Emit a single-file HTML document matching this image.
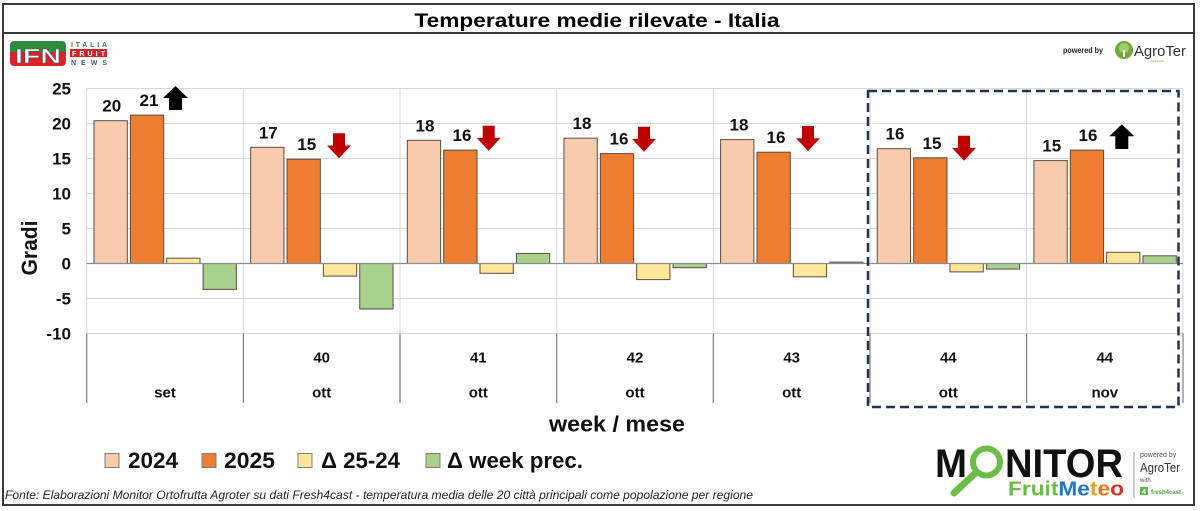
<!DOCTYPE html>
<html>
<head>
<meta charset="utf-8">
<style>
html,body{margin:0;padding:0;background:#fff;}
svg{display:block;}
text{font-family:"Liberation Sans",Arial,sans-serif;}
</style>
</head>
<body>
<svg width="1200" height="511" viewBox="0 0 1200 511" xmlns="http://www.w3.org/2000/svg">
<rect x="0" y="0" width="1200" height="511" fill="#fff"/>
<rect x="3" y="4" width="1191" height="501" fill="none" stroke="#3a3a3a" stroke-width="2"/>
<line x1="3" y1="33" x2="1194" y2="33" stroke="#3a3a3a" stroke-width="2"/>
<text x="597" y="27" text-anchor="middle" font-size="19" font-weight="bold" fill="#000" textLength="365" lengthAdjust="spacingAndGlyphs">Temperature medie rilevate - Italia</text>

<!-- IFN logo -->
<rect x="10" y="41" width="56" height="13" rx="4" fill="#2f8a3c"/>
<rect x="10" y="53" width="56" height="13" rx="4" fill="#d8232a"/>
<rect x="10" y="50" width="56" height="6" fill="#d8232a"/>
<rect x="10" y="48" width="56" height="4" fill="#2f8a3c"/>
<text x="38" y="63" text-anchor="middle" font-size="20" font-weight="bold" fill="#fff" stroke="#555" stroke-width="0.6" textLength="46" lengthAdjust="spacingAndGlyphs">IFN</text>
<text x="71" y="47" font-size="7" font-weight="bold" fill="#3f7f46" textLength="36" lengthAdjust="spacing">ITALIA</text>
<rect x="70" y="49" width="37" height="8" fill="#d8232a"/>
<text x="72" y="56" font-size="7" font-weight="bold" fill="#fff" textLength="33" lengthAdjust="spacing">FRUIT</text>
<text x="71" y="65" font-size="7" font-weight="bold" fill="#555" textLength="36" lengthAdjust="spacing">NEWS</text>

<!-- AgroTer top right -->
<text x="1063" y="53" font-size="8" font-weight="bold" fill="#222" textLength="40" lengthAdjust="spacingAndGlyphs">powered by</text>
<circle cx="1124" cy="50" r="9" fill="#6dab3c"/>
<circle cx="1124" cy="48" r="5" fill="#9fd06a"/>
<rect x="1123" y="50" width="2" height="7" fill="#fff"/>
<text x="1134" y="56" font-size="15" fill="#333" textLength="52" lengthAdjust="spacingAndGlyphs">AgroTer</text>
<text x="1150" y="62" font-size="3" fill="#6dab3c">think fresh</text>

<!-- gridlines -->
<g stroke="#d9d9d9" stroke-width="1">
<line x1="86.7" y1="88.5" x2="1183" y2="88.5"/>
<line x1="86.7" y1="123.5" x2="1183" y2="123.5"/>
<line x1="86.7" y1="158.5" x2="1183" y2="158.5"/>
<line x1="86.7" y1="193.5" x2="1183" y2="193.5"/>
<line x1="86.7" y1="228.5" x2="1183" y2="228.5"/>
<line x1="86.7" y1="298.5" x2="1183" y2="298.5"/>
<line x1="86.7" y1="333.5" x2="1183" y2="333.5"/>
<line x1="86.7" y1="88.5" x2="86.7" y2="333.5"/>
<line x1="243.4" y1="88.5" x2="243.4" y2="333.5"/>
<line x1="400" y1="88.5" x2="400" y2="333.5"/>
<line x1="556.7" y1="88.5" x2="556.7" y2="333.5"/>
<line x1="713.3" y1="88.5" x2="713.3" y2="333.5"/>
<line x1="870" y1="88.5" x2="870" y2="333.5"/>
<line x1="1026.6" y1="88.5" x2="1026.6" y2="333.5"/>
<line x1="1183" y1="88.5" x2="1183" y2="333.5"/>
</g>

<g stroke="#7f7f7f" stroke-width="1.2">
<line x1="86.7" y1="333.5" x2="86.7" y2="403"/>
<line x1="243.4" y1="333.5" x2="243.4" y2="403"/>
<line x1="400" y1="333.5" x2="400" y2="403"/>
<line x1="556.7" y1="333.5" x2="556.7" y2="403"/>
<line x1="713.3" y1="333.5" x2="713.3" y2="403"/>
<line x1="870" y1="333.5" x2="870" y2="403"/>
<line x1="1026.6" y1="333.5" x2="1026.6" y2="403"/>
<line x1="1183" y1="333.5" x2="1183" y2="403"/>
</g>

<g font-size="17" font-weight="bold" fill="#111" text-anchor="end">
<text x="71" y="94.5">25</text>
<text x="71" y="129.5">20</text>
<text x="71" y="164.5">15</text>
<text x="71" y="199.5">10</text>
<text x="71" y="234.5">5</text>
<text x="71" y="269.5">0</text>
<text x="71" y="304.5">-5</text>
<text x="71" y="339.5">-10</text>
</g>
<text transform="translate(37,248) rotate(-90)" text-anchor="middle" font-size="22" font-weight="bold" fill="#111" textLength="55" lengthAdjust="spacingAndGlyphs">Gradi</text>

<g stroke="#5a4d44" stroke-width="1">
<rect x="94" y="120.7" width="33.3" height="142.8" fill="#f8cbad"/>
<rect x="130.4" y="115.1" width="33.3" height="148.4" fill="#ed7d31"/>
<rect x="166.7" y="258.2" width="33.3" height="5.3" fill="#ffe699"/>
<rect x="203.1" y="263.5" width="33.3" height="25.9" fill="#a9d18e"/>
<rect x="250.65" y="147.3" width="33.3" height="116.2" fill="#f8cbad"/>
<rect x="287.05" y="159.2" width="33.3" height="104.3" fill="#ed7d31"/>
<rect x="323.35" y="263.5" width="33.3" height="12.6" fill="#ffe699"/>
<rect x="359.75" y="263.5" width="33.3" height="45.5" fill="#a9d18e"/>
<rect x="407.3" y="140.3" width="33.3" height="123.2" fill="#f8cbad"/>
<rect x="443.7" y="150.1" width="33.3" height="113.4" fill="#ed7d31"/>
<rect x="480" y="263.5" width="33.3" height="9.8" fill="#ffe699"/>
<rect x="516.4" y="253.4" width="33.3" height="10.1" fill="#a9d18e"/>
<rect x="563.95" y="138.2" width="33.3" height="125.3" fill="#f8cbad"/>
<rect x="600.35" y="153.6" width="33.3" height="109.9" fill="#ed7d31"/>
<rect x="636.65" y="263.5" width="33.3" height="16.1" fill="#ffe699"/>
<rect x="673.05" y="263.5" width="33.3" height="4.2" fill="#a9d18e"/>
<rect x="720.6" y="139.6" width="33.3" height="123.9" fill="#f8cbad"/>
<rect x="757" y="152.2" width="33.3" height="111.3" fill="#ed7d31"/>
<rect x="793.3" y="263.5" width="33.3" height="13.3" fill="#ffe699"/>
<rect x="829.7" y="262.1" width="33.3" height="1.4" fill="#a9d18e"/>
<rect x="877.25" y="148.7" width="33.3" height="114.8" fill="#f8cbad"/>
<rect x="913.65" y="157.8" width="33.3" height="105.7" fill="#ed7d31"/>
<rect x="949.95" y="263.5" width="33.3" height="8.4" fill="#ffe699"/>
<rect x="986.35" y="263.5" width="33.3" height="5.6" fill="#a9d18e"/>
<rect x="1033.9" y="160.6" width="33.3" height="102.9" fill="#f8cbad"/>
<rect x="1070.3" y="150.1" width="33.3" height="113.4" fill="#ed7d31"/>
<rect x="1106.6" y="252.3" width="33.3" height="11.2" fill="#ffe699"/>
<rect x="1143" y="255.8" width="33.3" height="7.7" fill="#a9d18e"/>
</g>
<line x1="86.7" y1="263.5" x2="1183" y2="263.5" stroke="#8c8c8c" stroke-width="1.2"/>

<g font-size="17" font-weight="bold" fill="#111" text-anchor="middle">
<text x="111.7" y="111.7">20</text>
<text x="149" y="106">21</text>
<text x="268.3" y="138.3">17</text>
<text x="306.7" y="150.2">15</text>
<text x="425" y="131.3">18</text>
<text x="462" y="141.1">16</text>
<text x="582" y="129.2">18</text>
<text x="619" y="144.6">16</text>
<text x="739" y="130.6">18</text>
<text x="776" y="143.2">16</text>
<text x="895" y="139.7">16</text>
<text x="932" y="148.8">15</text>
<text x="1051.7" y="151.6">15</text>
<text x="1088" y="141.1">16</text>
</g>

<g>
<path d="M175.5,86 L188,98 L182,98 L182,110 L169,110 L169,98 L163,98 Z" fill="#000"/>
<path d="M333,133.3 L345,133.3 L345,145.5 L351,145.5 L339,158.3 L327,145.5 L333,145.5 Z" fill="#c00000"/>
<path d="M482.7,125.7 L494.7,125.7 L494.7,137.9 L500.7,137.9 L488.7,150.7 L476.7,137.9 L482.7,137.9 Z" fill="#c00000"/>
<path d="M638,126.7 L650,126.7 L650,138.9 L656,138.9 L644,151.7 L632,138.9 L638,138.9 Z" fill="#c00000"/>
<path d="M802,126 L814,126 L814,138.2 L820,138.2 L808,151 L796,138.2 L802,138.2 Z" fill="#c00000"/>
<path d="M958,135.7 L970,135.7 L970,147.9 L976,147.9 L964,160.7 L952,147.9 L958,147.9 Z" fill="#c00000"/>
<path d="M1121.8,124.3 L1134.3,136.3 L1128.3,136.3 L1128.3,149 L1115.3,149 L1115.3,136.3 L1109.3,136.3 Z" fill="#000"/>
</g>

<g font-size="15" font-weight="bold" fill="#111" text-anchor="middle">
<text x="321.7" y="362.5">40</text>
<text x="478.3" y="362.5">41</text>
<text x="635" y="362.5">42</text>
<text x="791.7" y="362.5">43</text>
<text x="948.3" y="362.5">44</text>
<text x="1104.8" y="362.5">44</text>
<text x="165" y="397.5">set</text>
<text x="321.7" y="397.5">ott</text>
<text x="478.3" y="397.5">ott</text>
<text x="635" y="397.5">ott</text>
<text x="791.7" y="397.5">ott</text>
<text x="948.3" y="397.5">ott</text>
<text x="1104.8" y="397.5">nov</text>
</g>

<rect x="868" y="91" width="310.5" height="316" fill="none" stroke="#1f3550" stroke-width="2.5" stroke-dasharray="9,5"/>

<text x="617" y="431.5" text-anchor="middle" font-size="22" font-weight="bold" fill="#111" textLength="136" lengthAdjust="spacingAndGlyphs">week / mese</text>

<g stroke="#7f7f7f" stroke-width="1">
<rect x="105" y="453.5" width="14" height="14" fill="#f8cbad"/>
<rect x="202" y="453.5" width="14" height="14" fill="#ed7d31"/>
<rect x="298" y="453.5" width="14" height="14" fill="#ffe699"/>
<rect x="426" y="453.5" width="14" height="14" fill="#a9d18e"/>
</g>
<g font-size="22" font-weight="bold" fill="#111">
<text x="128" y="468" textLength="50" lengthAdjust="spacingAndGlyphs">2024</text>
<text x="224" y="468" textLength="51" lengthAdjust="spacingAndGlyphs">2025</text>
<text x="321" y="468" textLength="79" lengthAdjust="spacingAndGlyphs">Δ 25-24</text>
<text x="447" y="468" textLength="136" lengthAdjust="spacingAndGlyphs">Δ week prec.</text>
</g>

<text x="5" y="499" font-size="12" font-style="italic" fill="#222" textLength="748" lengthAdjust="spacingAndGlyphs">Fonte: Elaborazioni Monitor Ortofrutta Agroter su dati Fresh4cast - temperatura media delle 20 città principali come popolazione per regione</text>

<text x="935" y="477" font-size="40" font-weight="bold" fill="#111" textLength="32" lengthAdjust="spacingAndGlyphs">M</text>
<circle cx="986.5" cy="462" r="13.5" fill="none" stroke="#6cbd45" stroke-width="6"/>
<line x1="976" y1="472.5" x2="954" y2="493" stroke="#6cbd45" stroke-width="7" stroke-linecap="round"/>
<text x="1005" y="477" font-size="40" font-weight="bold" fill="#111" textLength="118" lengthAdjust="spacingAndGlyphs">NITOR</text>
<text x="1008" y="495.5" font-size="20" font-weight="bold" textLength="116" lengthAdjust="spacingAndGlyphs"><tspan fill="#6cbd45">Fruit</tspan><tspan fill="#1f78c1">Me</tspan><tspan fill="#f0a020">t</tspan><tspan fill="#e8731d">e</tspan><tspan fill="#d9312b">o</tspan></text>
<line x1="1134" y1="452" x2="1134" y2="498" stroke="#999" stroke-width="1"/>
<text x="1140" y="457" font-size="7" fill="#555">powered by</text>
<text x="1140" y="472" font-size="13" fill="#333" textLength="40" lengthAdjust="spacingAndGlyphs">AgroTer</text>
<text x="1140" y="482" font-size="6" fill="#555">with</text>
<rect x="1140" y="487" width="8" height="8" fill="#5cb946"/>
<text x="1142" y="494" font-size="7" font-weight="bold" fill="#fff">4</text>
<text x="1151" y="494" font-size="6" font-weight="bold" fill="#4aa83a">fresh4cast</text>
</svg>
</body>
</html>
